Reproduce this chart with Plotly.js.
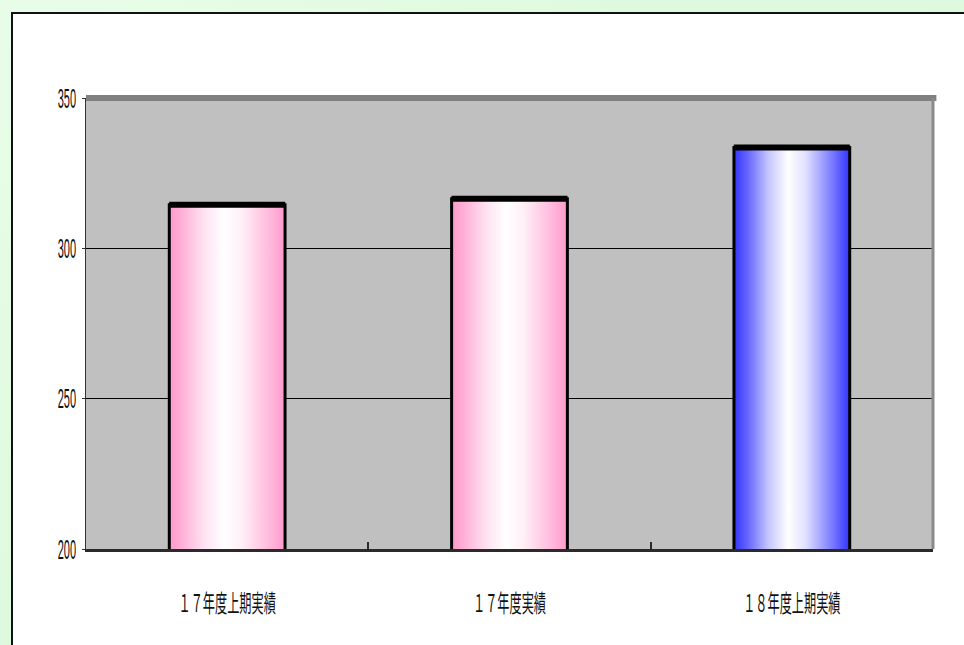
<!DOCTYPE html>
<html>
<head>
<meta charset="utf-8">
<script src="https://cdn.plot.ly/plotly-3.0.1.min.js"></script>
<style>
  html, body { margin: 0; padding: 0; }
  body { width: 964px; height: 645px; overflow: hidden; position: relative;
         background: linear-gradient(135deg, #E8FDE8 0%, #DEFADE 40%, #DCF9DC 100%); }
  #panel { position: absolute; left: 11px; top: 12px; width: 970px; height: 650px;
           background: #FFFFFF; border-left: 2px solid #111; border-top: 2px solid #111; }
  #chart { position: absolute; left: 0; top: 0; width: 964px; height: 645px; }
</style>
</head>
<body>
<div id="panel"></div>
<div id="chart"></div>
<script>
// ---- data ----
const categories = ['１７年度上期実績', '１７年度実績', '１８年度上期実績'];
const values = [314.5, 316.5, 333.5];
const barColors = ['#FF99CC', '#FF99CC', '#3333FF'];
const yTickValues = [200, 250, 300, 350];
const yTickLabels = ['200', '250', '300', '350'];

const data = [{
  type: 'bar',
  x: categories,
  y: values,
  width: 0.41,
  marker: { color: barColors, line: { color: '#000000', width: 3 } },
  error_y: { type: 'data', array: values.map(() => 0), visible: true,
             thickness: 6, width: 58, color: '#000000' },
  hoverinfo: 'skip'
}];

const layout = {
  width: 964, height: 645,
  margin: { l: 86, r: 31, t: 98, b: 96, pad: 0 },
  paper_bgcolor: 'rgba(0,0,0,0)',
  plot_bgcolor: '#C0C0C0',
  showlegend: false,
  xaxis: {
    type: 'category',
    showline: true, linecolor: '#2a2a2a', linewidth: 2.5,
    ticks: 'inside', tickson: 'boundaries', ticklen: 7, tickwidth: 2, tickcolor: '#2a2a2a',
    showgrid: false, zeroline: false,
    ticklabelstandoff: 38,
    tickfont: { family: '"Noto Sans CJK JP", sans-serif', size: 16, color: '#111' }
  },
  yaxis: {
    range: [200, 350],
    tickvals: yTickValues, ticktext: yTickLabels,
    showline: true, linecolor: '#333', linewidth: 1.5,
    ticks: 'outside', ticklen: 3, tickcolor: '#333',
    showgrid: true, gridcolor: '#000000', gridwidth: 1,
    zeroline: false,
    ticklabelstandoff: 1,
    tickfont: { family: '"Liberation Sans", Arial, sans-serif', size: 22, color: '#111' }
  },
  shapes: [
    { type: 'line', xref: 'paper', yref: 'paper', x0: 0, x1: 1.004, y0: 1, y1: 1,
      line: { color: '#808080', width: 6 }, layer: 'above' },
    { type: 'line', xref: 'paper', yref: 'paper', x0: 1, x1: 1, y0: 0, y1: 1,
      line: { color: '#8a8a8a', width: 3 }, layer: 'above' }
  ]
};

Plotly.newPlot('chart', data, layout, { staticPlot: true, displayModeBar: false }).then(gd => {
  const NS = 'http://www.w3.org/2000/svg';
  const svg = gd.querySelector('svg.main-svg');
  let defs = svg.querySelector('defs');
  if (!defs) { defs = document.createElementNS(NS, 'defs'); svg.insertBefore(defs, svg.firstChild); }
  function mix(hex, t) { // t=0 -> color, t=1 -> white
    const r = parseInt(hex.slice(1, 3), 16), g = parseInt(hex.slice(3, 5), 16), b = parseInt(hex.slice(5, 7), 16);
    const m = v => Math.round(v + (255 - v) * t);
    return `rgb(${m(r)},${m(g)},${m(b)})`;
  }
  const stopsDef = [[0, 0], [0.12, 0.25], [0.3, 0.72], [0.47, 1], [0.62, 0.85], [0.85, 0.35], [1, 0]];
  barColors.forEach((c, i) => {
    const lg = document.createElementNS(NS, 'linearGradient');
    lg.setAttribute('id', 'bargrad' + i);
    lg.setAttribute('x1', '0'); lg.setAttribute('y1', '0');
    lg.setAttribute('x2', '1'); lg.setAttribute('y2', '0');
    stopsDef.forEach(([o, t]) => {
      const s = document.createElementNS(NS, 'stop');
      s.setAttribute('offset', o);
      s.setAttribute('stop-color', mix(c, t));
      lg.appendChild(s);
    });
    defs.appendChild(lg);
  });
  gd.querySelectorAll('.barlayer .point path').forEach((p, i) => {
    p.style.fill = `url(#bargrad${i})`;
  });
  function squash(sel, sx, sy, anchor) {
    gd.querySelectorAll(sel).forEach(t => {
      const b = t.getBBox();
      const cx = anchor === 'end' ? b.x + b.width : b.x + b.width / 2;
      const cy = b.y + b.height / 2;
      const tr = t.getAttribute('transform') || '';
      t.setAttribute('transform', `${tr} translate(${cx},${cy}) scale(${sx},${sy}) translate(${-cx},${-cy})`);
    });
  }
  squash('.xtick text', 0.76, 1.5, 'middle');
  squash('.ytick text', 0.5, 1.25, 'end');
});
</script>
</body>
</html>
